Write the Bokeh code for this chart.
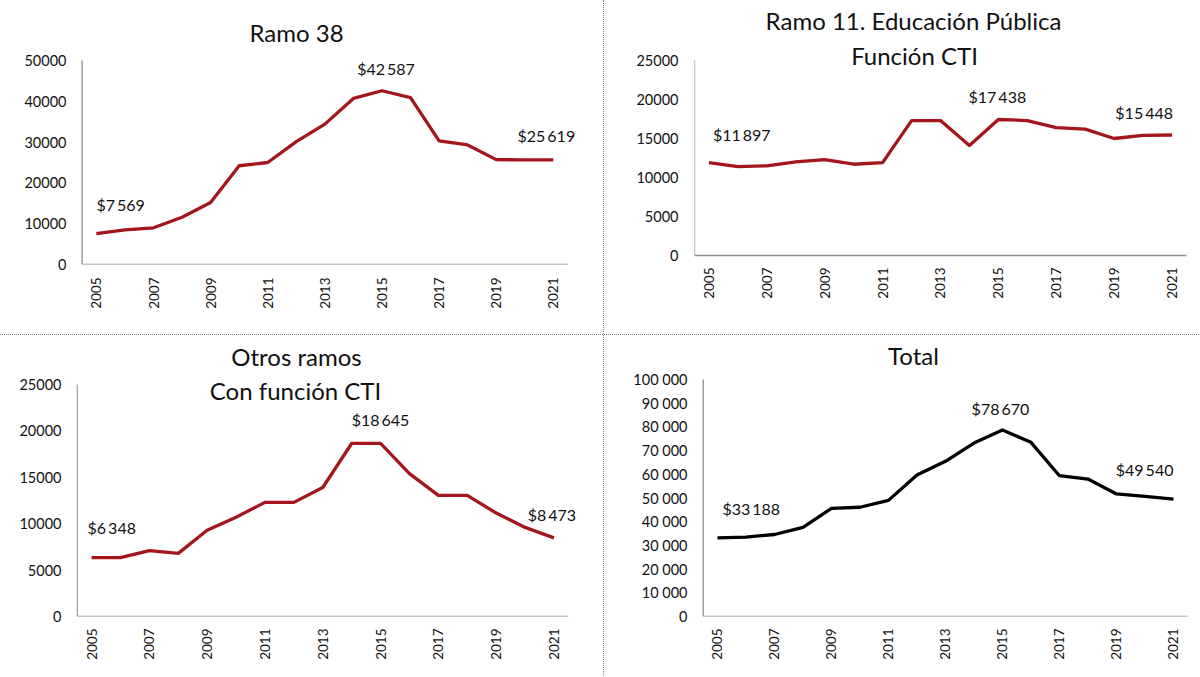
import math
from bokeh.plotting import figure
from bokeh.layouts import column, row
from bokeh.models import Range1d, FixedTicker, Div
from bokeh.core.properties import value
from bokeh.embed import file_html
from bokeh.resources import INLINE

years = list(range(2005, 2022))
year_ticks = [2005, 2007, 2009, 2011, 2013, 2015, 2017, 2019, 2021]

ramo38 = [7569, 8500, 9000, 11600, 15200, 24200, 25000, 30100, 34400, 40700,
          42587, 40900, 30300, 29300, 25700, 25650, 25619]
ramo11 = [11897, 11400, 11500, 12000, 12300, 11700, 11900, 17300, 17300, 14100,
          17438, 17300, 16400, 16200, 15000, 15400, 15448]
otros = [6348, 6348, 7100, 6800, 9300, 10700, 12300, 12300, 13900, 18645,
         18645, 15400, 13050, 13050, 11150, 9600, 8473]
total = [33188, 33500, 34600, 37600, 45600, 46100, 49000, 59700, 65500, 73200,
         78670, 73500, 59400, 58000, 51700, 50700, 49540]

ticks_38 = [0, 10000, 20000, 30000, 40000, 50000]
ticks_11 = [0, 5000, 10000, 15000, 20000, 25000]
ticks_otros = [0, 5000, 10000, 15000, 20000, 25000]
ticks_total = [0, 10000, 20000, 30000, 40000, 50000, 60000, 70000, 80000, 90000, 100000]

titles_38 = ["Ramo 38"]
titles_11 = ["Ramo 11. Educación Pública", "Función CTI"]
titles_otros = ["Otros ramos", "Con función CTI"]
titles_total = ["Total"]

labeled_years = [2005, 2015, 2021]

RED = "#A5161C"
FONT = "Lato"
TXT = "#111111"
AXIS = "#8c8c8c"


def tick_text(t, sep):
    if t < 1000:
        return str(t)
    return f"{t // 1000}{sep}{t % 1000:03d}"


def money(v):
    return f"${v // 1000}\u2009{v % 1000:03d}"


def make(series, color, ticks, sep, titles, title_px, label_styles, cfg):
    ox, oy, w, h, bl, bb, adx, ady, ppy, ppu, ystand, xstand = cfg
    fw, fh = w - bl, h - bb
    xs = 2004.5 - adx / ppy
    ys = -ady / ppu
    p = figure(width=w, height=h,
               x_range=Range1d(xs, xs + fw / ppy),
               y_range=Range1d(ys, ys + fh / ppu),
               output_backend="svg", toolbar_location=None,
               min_border_left=bl, min_border_right=0,
               min_border_top=0, min_border_bottom=bb)
    p.outline_line_color = None
    p.grid.visible = False
    p.background_fill_color = "white"
    p.border_fill_color = "white"

    # axis lines (only over the category span / tick span, as in the original)
    p.segment(x0=[2004.5, 2004.5], y0=[0, 0], x1=[2004.5, 2021.5],
              y1=[ticks[-1], 0], line_color=AXIS, line_width=1.3)

    p.line(years, series, line_color=color, line_width=3.3, line_join="round")

    for ax in (p.xaxis, p.yaxis):
        ax.axis_line_color = None
        ax.major_tick_line_color = None
        ax.minor_tick_line_color = None
        ax.major_tick_in = 0
        ax.major_tick_out = 0
        ax.minor_tick_in = 0
        ax.minor_tick_out = 0
        ax.major_label_text_font = FONT
        ax.major_label_text_color = TXT
    p.xaxis.major_label_text_font_size = "13.5px"
    p.yaxis.major_label_text_font_size = "14.5px"
    p.xaxis.ticker = FixedTicker(ticks=year_ticks)
    p.xaxis.major_label_orientation = math.pi / 2
    p.xaxis.major_label_standoff = xstand
    p.yaxis.ticker = FixedTicker(ticks=ticks)
    p.yaxis.major_label_overrides = {t: tick_text(t, sep) for t in ticks}
    p.yaxis.major_label_standoff = ystand

    fl = ox + bl
    fb = oy + h - bb
    tx = [xs + (px - fl) / ppy for px, py in title_px]
    ty = [ys + (fb - py) / ppu for px, py in title_px]
    p.text(x=tx, y=ty, text=titles, text_align="center",
           text_baseline="middle", text_font=value(FONT),
           text_font_size="24px", text_color=TXT)

    for yr, (align, dx, dy) in zip(labeled_years, label_styles):
        v = series[years.index(yr)]
        p.text(x=[yr], y=[v], text=[money(v)], x_offset=dx, y_offset=dy,
               text_align=align, text_baseline="middle",
               text_font=value(FONT), text_font_size="16px", text_color=TXT)
    return p


# cfg: origin x, origin y, width, height, left border, bottom border,
#      axis shift x, axis shift y, px per year, px per unit, y standoff, x standoff
p1 = make(ramo38, RED, ticks_38, "", titles_38, [(296, 32)],
          [("left", 0, -29), ("center", 4, -22), ("center", -7, -24)],
          (0, 0, 603, 334, 76, 70, 5.6, 0, 28.56, 204 / 50000, 10, 13))
p2 = make(ramo11, RED, ticks_11, "", titles_11, [(913, 20), (914, 55)],
          [("left", 4, -28), ("center", -1, -23), ("right", 1, -23)],
          (604, 0, 595, 334, 90, 70, 0, 9, 28.94, 195 / 25000, 16, 3))
p3 = make(otros, RED, ticks_otros, "", titles_otros, [(296, 356), (295, 390)],
          [("left", -4, -30), ("center", 0, -24), ("center", -2, -23)],
          (0, 335, 603, 341, 76, 60, 0.6, 0, 28.9, 232 / 25000, 15, 12))
p4 = make(total, "black", ticks_total, " ", titles_total, [(913, 355)],
          [("left", 5, -29), ("center", -2, -22), ("right", 0, -30)],
          (604, 335, 595, 341, 90, 60, 8.7, 0, 28.5, 237 / 100000, 7, 12))

sep_style = "1px dotted #7a7a7a"
vsep1 = Div(width=1, height=334, margin=(0, 0, 0, 0),
            styles={"border-left": sep_style, "box-sizing": "border-box"})
vsep2 = Div(width=1, height=341, margin=(0, 0, 0, 0),
            styles={"border-left": sep_style, "box-sizing": "border-box"})
hsep = Div(width=1199, height=1, margin=(0, 0, 0, 0),
           styles={"border-top": sep_style, "box-sizing": "border-box"})

layout = column(row(p1, vsep1, p2), hsep, row(p3, vsep2, p4))

open("out.html", "w").write(file_html(layout, INLINE))
